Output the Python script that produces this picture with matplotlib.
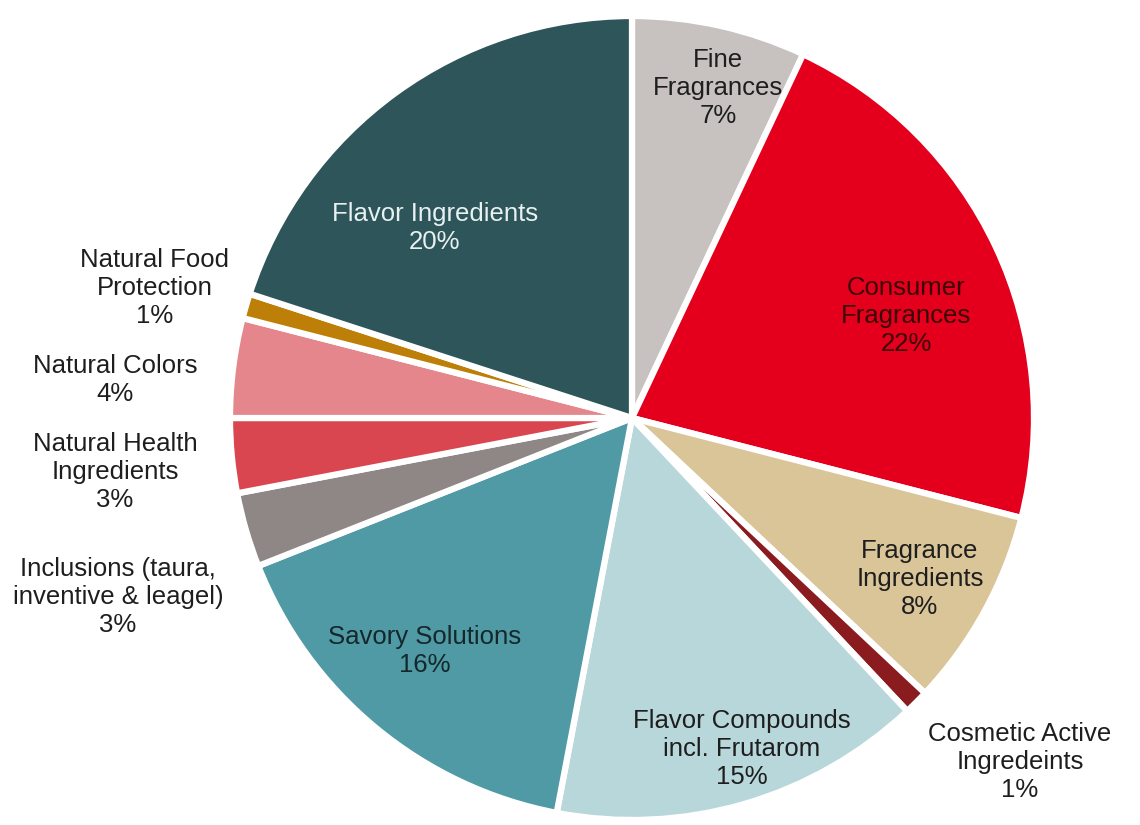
import matplotlib
matplotlib.use("Agg")
import matplotlib.pyplot as plt

# Sales split by business unit (%), clockwise from 12 o'clock
segments = [
    "Fine\nFragrances",
    "Consumer\nFragrances",
    "Fragrance\nIngredients",
    "Cosmetic Active\nIngredeints",
    "Flavor Compounds\nincl. Frutarom",
    "Savory Solutions",
    "Inclusions (taura,\ninventive & leagel)",
    "Natural Health\nIngredients",
    "Natural Colors",
    "Natural Food\nProtection",
    "Flavor Ingredients",
]
shares = [7, 22, 8, 1, 15, 16, 3, 3, 4, 1, 20]

colors = [
    "#c7c2c0", "#e4001c", "#d9c598", "#8a1c20", "#b8d7db", "#4f9aa4",
    "#8e8786", "#da4650", "#e4868b", "#be7f08", "#2d555a",
]
text_colors = [
    "#1e1e1e", "#3a0606", "#1e1e1e", "#1e1e1e", "#1e1e1e", "#14282c",
    "#1e1e1e", "#1e1e1e", "#1e1e1e", "#1e1e1e", "#e8f0f0",
]
# label anchor (pixel coords, origin top-left)
label_pos = [
    (718, 88), (906, 316), (920, 579), (1020, 762), (742, 749), (425, 651),
    (118, 597), (115, 472), (115, 380), (155, 288), (435, 228),
]

W, H = 1140, 825
fig = plt.figure(figsize=(W / 100, H / 100), dpi=100)
ax = fig.add_axes([0, 0, 1, 1])

cx, cy, r = 632, H - 418, 402
ax.pie(
    shares,
    colors=colors,
    startangle=90,
    counterclock=False,
    center=(cx, cy),
    radius=r,
    wedgeprops=dict(edgecolor="white", linewidth=4.5),
    frame=True,
)
ax.set_xlim(0, W)
ax.set_ylim(0, H)
ax.set_aspect("equal")
ax.axis("off")

for name, val, (x, y), tc in zip(segments, shares, label_pos, text_colors):
    ax.text(x, H - y, f"{name}\n{val}%", ha="center", va="center",
            fontsize=18.5, color=tc, family="Liberation Sans",
            linespacing=1.22)

fig.savefig("out.png", dpi=100, facecolor="white")
